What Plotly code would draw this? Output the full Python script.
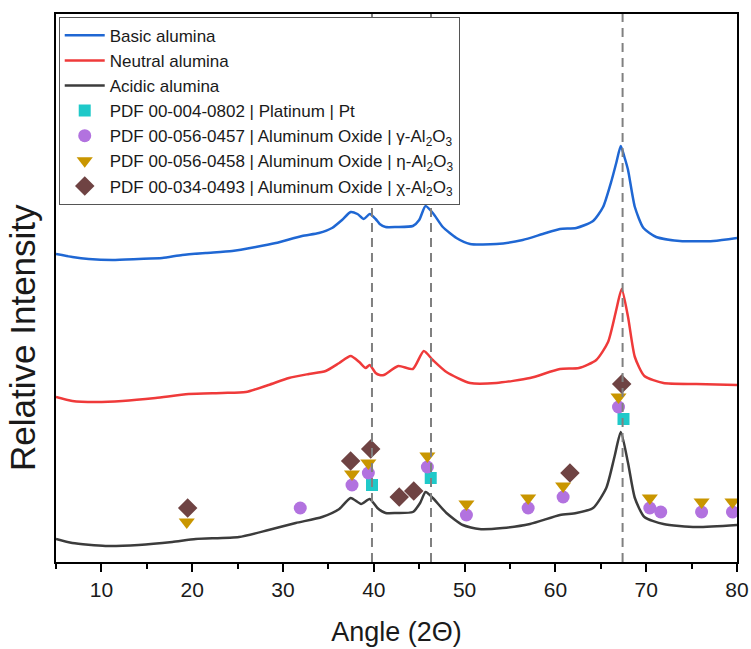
import plotly.graph_objects as go

# ---- data (angle 2θ, relative intensity in arbitrary units) ----
basic_x = [5, 6.8, 8.6, 11.2, 14.1, 16.7, 18.9, 21.5, 24.4, 27.0, 29.2, 32.1, 33.95, 35.4, 36.5,
           37.45, 38.2, 38.9, 39.55, 40.2, 40.65, 41.3, 42.5, 44.3, 45.0, 45.7, 46.5, 47.6, 49.1,
           50.6, 53.5, 56.4, 58.6, 60.5, 62.3, 64.15, 65.25, 66.2, 66.7, 67.2, 67.6, 68.0, 68.75,
           69.7, 71.1, 73.7, 77.4, 80]
basic_y = [308, 305, 303, 302, 303, 304, 307, 309, 311, 315, 319, 326, 329, 334, 342,
           350, 348, 343, 348, 343, 338, 335, 335, 336, 342, 356, 349, 335, 324,
           318, 318, 322, 328, 333, 334, 341, 355, 382, 399, 416, 405, 392, 355,
           334, 325, 321, 321, 324]

neutral_x = [5, 6.8, 9.35, 12.3, 15.97, 19.6, 23.3, 25.9, 28.4, 30.65, 32.85, 34.7, 36.2, 37.45,
             38.4, 39.1, 39.55, 40.2, 40.65, 41.1, 42.7, 44.3, 45.5, 46.5, 48, 50.6, 53.5, 57.2,
             60.5, 62.6, 64.5, 65.8, 66.7, 67.3, 68.0, 68.75, 69.8, 71.9, 75.5, 80]
neutral_y = [165, 161, 160, 161, 164, 168, 169, 170, 177, 184, 188, 191, 199, 206,
             200, 194, 197, 189, 187, 187, 196, 193, 211, 202, 190, 179, 179, 184,
             193, 194, 202, 220, 252, 273, 245, 205, 186, 179, 178, 177]

acidic_x = [5, 6.8, 10.45, 14.1, 17.8, 20.4, 25.15, 28.4, 31.4, 34.3, 36.2, 37.45, 38.6, 39.55,
            40.4, 41.3, 42.5, 44.3, 45.1, 45.7, 46.5, 48, 49.8, 51.6, 54.2, 57.2, 60.5, 62.3,
            64.15, 65.6, 66.5, 67.2, 68.0, 68.75, 69.8, 71.9, 75.5, 80]
acidic_y = [23, 19, 16, 17, 20, 23, 25, 32, 39, 45, 53, 64, 58, 63,
            54, 49, 49, 50, 59, 70, 64, 49, 37, 33, 34, 38, 47, 49,
            54, 74, 105, 130, 99, 64, 45, 38, 35, 37]

# reference pattern markers
pt_x = [39.8, 46.27, 67.5]
pt_y = [77, 84, 143]
gamma_x = [31.9, 37.6, 39.4, 45.9, 50.2, 57.0, 60.85, 66.95, 70.4, 71.6, 76.1, 79.5]
gamma_y = [54, 77, 89, 95, 47, 54, 65, 155, 54, 50, 50, 50]
eta_x = [19.4, 37.6, 39.4, 45.9, 50.2, 57.0, 60.85, 66.95, 70.4, 76.1, 79.5]
eta_y = [40, 88, 99, 106, 58, 64, 76, 165, 64, 60, 60]
chi_x = [19.5, 37.45, 39.66, 42.8, 44.4, 61.6, 67.3]
chi_y = [54, 101, 113, 65, 71, 89, 178]

pt_lines = [39.8, 46.3, 67.4]

x_range = [5, 80]
y_range = [0, 548]

FONT = "Arial, Liberation Sans, sans-serif"
TXT = "#1a1a1a"

fig = go.Figure()

line_series = [
    ("Basic alumina", basic_x, basic_y, "#1f67d3"),
    ("Neutral alumina", neutral_x, neutral_y, "#ef3a3a"),
    ("Acidic alumina", acidic_x, acidic_y, "#3c3c3c"),
]
for name, xs, ys, col in line_series:
    fig.add_trace(go.Scatter(x=xs, y=ys, mode="lines", name=name,
                             line=dict(color=col, width=2.5, shape="spline", smoothing=0.6)))

marker_series = [
    ("PDF 00-004-0802 | Platinum | Pt", pt_x, pt_y, "square", "#1fc9c9", 12),
    ("PDF 00-056-0457 | Aluminum Oxide | γ-Al<sub>2</sub>O<sub>3</sub>", gamma_x, gamma_y, "circle", "#b272df", 13),
    ("PDF 00-056-0458 | Aluminum Oxide | η-Al<sub>2</sub>O<sub>3</sub>", eta_x, eta_y, "triangle-down", "#c99600", 14),
    ("PDF 00-034-0493 | Aluminum Oxide | χ-Al<sub>2</sub>O<sub>3</sub>", chi_x, chi_y, "diamond", "#6f4343", 15),
]
for name, xs, ys, sym, col, sz in marker_series:
    fig.add_trace(go.Scatter(x=xs, y=ys, mode="markers", name=name,
                             marker=dict(symbol=sym, color=col, size=sz, line=dict(width=0))))

for xv in pt_lines:
    fig.add_shape(type="line", xref="x", yref="paper", x0=xv, x1=xv, y0=0, y1=1,
                  line=dict(color="#808080", width=2, dash="9px,6px"), layer="above")

fig.add_annotation(text="Relative Intensity", textangle=-90, showarrow=False,
                   xref="paper", yref="paper", x=-0.049, y=0.41,
                   xanchor="center", yanchor="middle",
                   font=dict(family=FONT, size=35, color=TXT))

fig.update_layout(
    width=751, height=649,
    margin=dict(l=56, r=14, t=14, b=87),
    paper_bgcolor="white", plot_bgcolor="white",
    font=dict(family=FONT, color=TXT),
    showlegend=True,
    legend=dict(x=0.004, y=0.995, xanchor="left", yanchor="top",
                bgcolor="white", bordercolor="#555555", borderwidth=1,
                font=dict(family=FONT, size=17, color=TXT),
                itemwidth=40, tracegroupgap=0),
)

fig.update_xaxes(range=x_range, showgrid=False, zeroline=False,
                 showline=True, linecolor="black", linewidth=1.5, mirror=True,
                 ticks="outside", ticklen=8, tickwidth=1.5, tickcolor="black",
                 tick0=0, dtick=10,
                 minor=dict(ticks="outside", ticklen=5, tickwidth=1.5, tickcolor="black", dtick=5, tick0=0),
                 tickfont=dict(family=FONT, size=21, color=TXT),
                 title=dict(text="Angle (2Θ)", font=dict(family=FONT, size=27, color=TXT), standoff=22),
                 automargin=False)
fig.update_yaxes(range=y_range, showgrid=False, zeroline=False,
                 showline=True, linecolor="black", linewidth=1.5, mirror=True,
                 ticks="", showticklabels=False, automargin=False)

fig.write_html("out.html", config={"displayModeBar": False},
               post_script="document.body.style.margin='0px';")
